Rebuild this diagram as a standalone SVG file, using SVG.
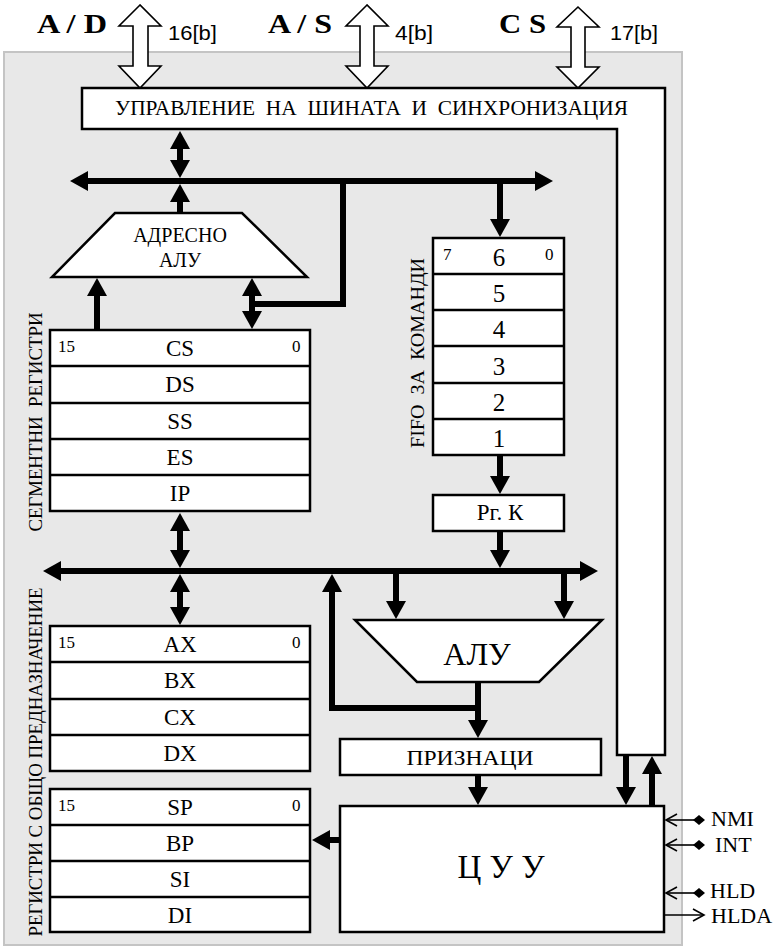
<svg xmlns="http://www.w3.org/2000/svg" width="781" height="947" viewBox="0 0 781 947">
  <style>
    .box { fill: #ffffff; stroke: #000000; stroke-width: 2.5; }
    .sep { stroke: #000000; stroke-width: 2.5; }
    .bus { fill: none; stroke: #000000; stroke-width: 6; }
    .sig { fill: none; stroke: #000000; stroke-width: 1.6; }
    .hollow { fill: #ffffff; stroke: #000000; stroke-width: 1.6; stroke-linejoin: miter; }
    .t { font-family: "Liberation Serif", "Times New Roman", serif; fill: #000000; }
    .s { font-family: "Liberation Sans", Arial, sans-serif; fill: #000000; }
    .reg { font-size: 23px; text-anchor: middle; }
    .idx { font-size: 17px; }
    .side { font-size: 18px; text-anchor: middle; }
    .bold { font-weight: bold; font-size: 28px; }
    .pre { white-space: pre; }
  </style>
  <defs>
    <marker id="ah" markerUnits="userSpaceOnUse" markerWidth="18" markerHeight="20" viewBox="0 0 18 20" refX="1" refY="10" orient="auto-start-reverse">
      <path d="M0,0 L18,10 L0,20 z" fill="#000000"/>
    </marker>
  </defs>

  <!-- processor body -->
  <rect x="4" y="52" width="678" height="893" fill="#e8e8e8" stroke="#c4c4c4" stroke-width="2"/>

  <!-- external buses -->
  <g id="ext-ad">
    <polygon class="hollow" points="140,5 119,26 133,26 133,66 119,66 140,88 161,66 148,66 148,26 161,26"/>
    <text class="t bold" x="37" y="33" textLength="70" lengthAdjust="spacingAndGlyphs">A / D</text>
    <text class="s" x="168" y="40" font-size="21" textLength="49" lengthAdjust="spacingAndGlyphs">16[b]</text>
  </g>
  <g id="ext-as">
    <polygon class="hollow" points="367,5 346,26 360,26 360,66 346,66 367,88 388,66 374,66 374,26 388,26"/>
    <text class="t bold" x="268" y="33" textLength="64" lengthAdjust="spacingAndGlyphs">A / S</text>
    <text class="s" x="395" y="40" font-size="21" textLength="38" lengthAdjust="spacingAndGlyphs">4[b]</text>
  </g>
  <g id="ext-cs">
    <polygon class="hollow" points="578,7 557,27 571,27 571,67 557,67 578,88 599,67 585,67 585,27 599,27"/>
    <text class="t bold" x="499" y="33" textLength="47" lengthAdjust="spacingAndGlyphs">C S</text>
    <text class="s" x="610" y="40" font-size="21" textLength="48" lengthAdjust="spacingAndGlyphs">17[b]</text>
  </g>

  <!-- bus control and synchronisation -->
  <g id="bus-control">
    <polygon class="box" points="82,88 665,88 665,755 617,755 617,129 82,129"/>
    <text class="t pre" xml:space="preserve" x="115" y="115" font-size="20" textLength="513" lengthAdjust="spacingAndGlyphs">УПРАВЛЕНИЕ  НА  ШИНАТА  И  СИНХРОНИЗАЦИЯ</text>
  </g>

  <!-- address ALU -->
  <g id="addr-alu">
    <polygon class="box" points="115,213 242,213 307,277 52,277"/>
    <text class="t" x="180" y="242" font-size="20" text-anchor="middle">АДРЕСНО</text>
    <text class="t" x="180" y="267" font-size="20" text-anchor="middle">АЛУ</text>
  </g>

  <!-- segment registers -->
  <g id="seg-regs">
    <rect class="box" x="50" y="330" width="260" height="181"/>
    <line class="sep" x1="50" y1="366" x2="310" y2="366"/>
    <line class="sep" x1="50" y1="403" x2="310" y2="403"/>
    <line class="sep" x1="50" y1="439" x2="310" y2="439"/>
    <line class="sep" x1="50" y1="475" x2="310" y2="475"/>
    <text class="t idx" x="58" y="352">15</text>
    <text class="t idx" x="292" y="352">0</text>
    <text class="t reg" x="180" y="356">CS</text>
    <text class="t reg" x="180" y="392">DS</text>
    <text class="t reg" x="180" y="429">SS</text>
    <text class="t reg" x="180" y="465">ES</text>
    <text class="t reg" x="180" y="501">IP</text>
    <text class="t side pre" xml:space="preserve" transform="translate(42,422) rotate(-90)" textLength="219" lengthAdjust="spacingAndGlyphs">СЕГМЕНТНИ  РЕГИСТРИ</text>
  </g>

  <!-- instruction queue -->
  <g id="fifo">
    <rect class="box" x="433" y="238" width="131" height="217"/>
    <line class="sep" x1="433" y1="274" x2="564" y2="274"/>
    <line class="sep" x1="433" y1="310" x2="564" y2="310"/>
    <line class="sep" x1="433" y1="346" x2="564" y2="346"/>
    <line class="sep" x1="433" y1="383" x2="564" y2="383"/>
    <line class="sep" x1="433" y1="419" x2="564" y2="419"/>
    <text class="t idx" x="443" y="260">7</text>
    <text class="t idx" x="545" y="260">0</text>
    <text class="t" x="499" y="266" font-size="25" text-anchor="middle">6</text>
    <text class="t" x="499" y="302" font-size="25" text-anchor="middle">5</text>
    <text class="t" x="499" y="338" font-size="25" text-anchor="middle">4</text>
    <text class="t" x="499" y="375" font-size="25" text-anchor="middle">3</text>
    <text class="t" x="499" y="411" font-size="25" text-anchor="middle">2</text>
    <text class="t" x="499" y="447" font-size="25" text-anchor="middle">1</text>
    <text class="t side pre" xml:space="preserve" transform="translate(424,353) rotate(-90)" textLength="190" lengthAdjust="spacingAndGlyphs">FIFO  ЗА  КОМАНДИ</text>
  </g>

  <!-- instruction register -->
  <g id="instr-reg">
    <rect class="box" x="433" y="495" width="131" height="36"/>
    <text class="t" x="500" y="520" font-size="23" text-anchor="middle">Рг. К</text>
  </g>

  <!-- ALU -->
  <g id="alu">
    <polygon class="box" points="355,620 602,620 539,682 417,682"/>
    <text class="t" x="477" y="665" font-size="32" text-anchor="middle">АЛУ</text>
  </g>

  <!-- flags -->
  <g id="flags">
    <rect class="box" x="340" y="739" width="261" height="36"/>
    <text class="t" x="470" y="765" font-size="22" text-anchor="middle" textLength="127" lengthAdjust="spacingAndGlyphs">ПРИЗНАЦИ</text>
  </g>

  <!-- general purpose registers -->
  <g id="gp-regs">
    <rect class="box" x="50" y="626" width="260" height="145"/>
    <line class="sep" x1="50" y1="662" x2="310" y2="662"/>
    <line class="sep" x1="50" y1="699" x2="310" y2="699"/>
    <line class="sep" x1="50" y1="735" x2="310" y2="735"/>
    <text class="t idx" x="58" y="648">15</text>
    <text class="t idx" x="292" y="648">0</text>
    <text class="t reg" x="180" y="652">AX</text>
    <text class="t reg" x="180" y="688">BX</text>
    <text class="t reg" x="180" y="725">CX</text>
    <text class="t reg" x="180" y="761">DX</text>
  </g>
  <g id="ptr-regs">
    <rect class="box" x="50" y="789" width="260" height="143"/>
    <line class="sep" x1="50" y1="825" x2="310" y2="825"/>
    <line class="sep" x1="50" y1="861" x2="310" y2="861"/>
    <line class="sep" x1="50" y1="897" x2="310" y2="897"/>
    <text class="t idx" x="58" y="811">15</text>
    <text class="t idx" x="292" y="811">0</text>
    <text class="t reg" x="180" y="815">SP</text>
    <text class="t reg" x="180" y="851">BP</text>
    <text class="t reg" x="180" y="887">SI</text>
    <text class="t reg" x="180" y="923">DI</text>
  </g>
  <g id="gp-label">
    <text class="t side" transform="translate(42,762) rotate(-90)" textLength="349" lengthAdjust="spacingAndGlyphs">РЕГИСТРИ С ОБЩО ПРЕДНАЗНАЧЕНИЕ</text>
  </g>

  <!-- control unit -->
  <g id="control-unit">
    <rect class="box" x="340" y="806" width="324" height="126"/>
    <text class="t" x="501" y="878" font-size="33" text-anchor="middle">Ц У У</text>
  </g>

  <!-- control signals -->
  <g id="signals">
    <line class="sig" x1="666" y1="820" x2="697" y2="820"/>
    <polyline class="sig" points="677,814 666,820 677,826"/>
    <polygon points="693,820 699,815 705,820 699,825" fill="#000000"/>
    <text class="t" x="711" y="826" font-size="22">NMI</text>

    <line class="sig" x1="666" y1="845" x2="697" y2="845"/>
    <polyline class="sig" points="677,839 666,845 677,851"/>
    <polygon points="693,845 699,840 705,845 699,850" fill="#000000"/>
    <text class="t" x="715" y="852" font-size="22">INT</text>

    <line class="sig" x1="666" y1="893" x2="697" y2="893"/>
    <polyline class="sig" points="677,887 666,893 677,899"/>
    <polygon points="693,893 699,888 705,893 699,898" fill="#000000"/>
    <text class="t" x="710" y="898" font-size="22">HLD</text>

    <line class="sig" x1="664" y1="915" x2="704" y2="915"/>
    <polyline class="sig" points="693,909 704,915 693,921"/>
    <text class="t" x="711" y="923" font-size="22">HLDA</text>
  </g>

  <!-- internal buses and data paths -->
  <g id="connectors">
    <!-- upper bus -->
    <line class="bus" x1="87" y1="181" x2="536" y2="181" marker-start="url(#ah)" marker-end="url(#ah)"/>
    <line class="bus" x1="180" y1="148" x2="180" y2="161" marker-start="url(#ah)" marker-end="url(#ah)"/>
    <line class="bus" x1="180" y1="213" x2="180" y2="201" marker-end="url(#ah)"/>
    <path class="bus" d="M343,178 V304 H252"/>
    <line class="bus" x1="252" y1="295" x2="252" y2="312" marker-start="url(#ah)" marker-end="url(#ah)"/>
    <line class="bus" x1="97" y1="330" x2="97" y2="295" marker-end="url(#ah)"/>
    <line class="bus" x1="500" y1="181" x2="500" y2="220" marker-end="url(#ah)"/>
    <line class="bus" x1="500" y1="455" x2="500" y2="477" marker-end="url(#ah)"/>
    <line class="bus" x1="500" y1="531" x2="500" y2="551" marker-end="url(#ah)"/>

    <!-- lower bus -->
    <line class="bus" x1="60" y1="571" x2="581" y2="571" marker-start="url(#ah)" marker-end="url(#ah)"/>
    <line class="bus" x1="180" y1="530" x2="180" y2="551" marker-start="url(#ah)" marker-end="url(#ah)"/>
    <line class="bus" x1="180" y1="591" x2="180" y2="608" marker-start="url(#ah)" marker-end="url(#ah)"/>
    <line class="bus" x1="396" y1="571" x2="396" y2="602" marker-end="url(#ah)"/>
    <line class="bus" x1="564" y1="571" x2="564" y2="602" marker-end="url(#ah)"/>
    <path class="bus" d="M478,708 H332 V591" marker-end="url(#ah)"/>
    <line class="bus" x1="478" y1="682" x2="478" y2="721" marker-end="url(#ah)"/>

    <!-- control paths -->
    <line class="bus" x1="478" y1="775" x2="478" y2="788" marker-end="url(#ah)"/>
    <line class="bus" x1="626" y1="755" x2="626" y2="788" marker-end="url(#ah)"/>
    <line class="bus" x1="652" y1="806" x2="652" y2="773" marker-end="url(#ah)"/>
    <line class="bus" x1="340" y1="840" x2="329" y2="840" marker-end="url(#ah)"/>
  </g>
</svg>
